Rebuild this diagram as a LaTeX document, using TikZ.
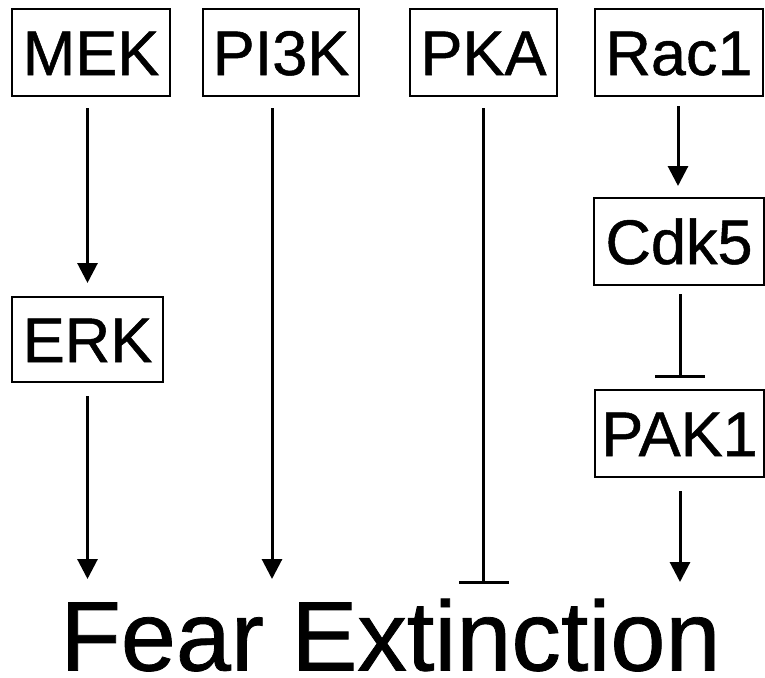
\documentclass[tikz,border=0pt]{standalone}
\usepackage{fontspec}
\setmainfont{Liberation Sans}[FakeBold=0.8]
\usetikzlibrary{arrows.meta,calc}
\begin{document}
\begin{tikzpicture}[x=1pt,y=-1pt,
  protbox/.style={draw=black,line width=2pt,inner sep=0pt,minimum height=87pt,
    font=\fontsize{63}{63}\selectfont\addfontfeature{FakeBold=0.8},text height=45pt,text depth=0pt},
  act/.style={line width=3pt,-{Triangle[length=20pt,width=20pt]}},
  inh/.style={line width=3pt,-{Bar[width=50pt,line width=3.5pt]}}]
\useasboundingbox (0,0) rectangle (765,677);
\fill[white] (0,0) rectangle (765,677);
% protein boxes
\node[protbox,minimum width=158pt] (MEK)  at (91,52.5)   {MEK};
\node[protbox,minimum width=156pt] (PI3K) at (281,52.5)  {PI3K};
\node[protbox,minimum width=147pt] (PKA)  at (483.5,52.5){PKA};
\node[protbox,minimum width=168pt] (Rac1) at (679,52.5)  {Rac1};
\node[protbox,minimum width=170pt] (Cdk5) at (679,241.5) {Cdk5};
\node[protbox,minimum width=151pt,minimum height=85pt] (ERK) at (87.5,339.5) {ERK};
\node[protbox,minimum width=169pt] (PAK1) at (679.5,433.5){PAK1};
% outcome
\node[anchor=base,inner sep=0pt,font=\fontsize{99}{99}\selectfont\addfontfeature{FakeBold=0.8}] (FE) at (390.5,670.5) {Fear Extinction};
\coordinate (e1) at (87.5,579);
\coordinate (p1) at (272,579);
\coordinate (k1) at (483.5,584);
\coordinate (a1) at (680,582);
% connectors
\draw[act] ($(MEK.south -| ERK.north)+(0,11)$) -- ($(ERK.north)+(0,-13)$);
\draw[act] ($(ERK.south)+(0,13)$) -- (e1);
\draw[act] ($(PI3K.south)+(-9,11)$) -- (p1);
\draw[inh] ($(PKA.south)+(0,11)$) -- (k1);
\draw[act] ($(Rac1.south)+(-1,9)$) -- ($(Cdk5.north)+(-1,-11)$);
\draw[inh] ($(Cdk5.south)+(1,8)$) -- ($(PAK1.north)+(0.5,-11)$);
\draw[act] ($(PAK1.south)+(0.5,13)$) -- (a1);
\end{tikzpicture}
\end{document}
